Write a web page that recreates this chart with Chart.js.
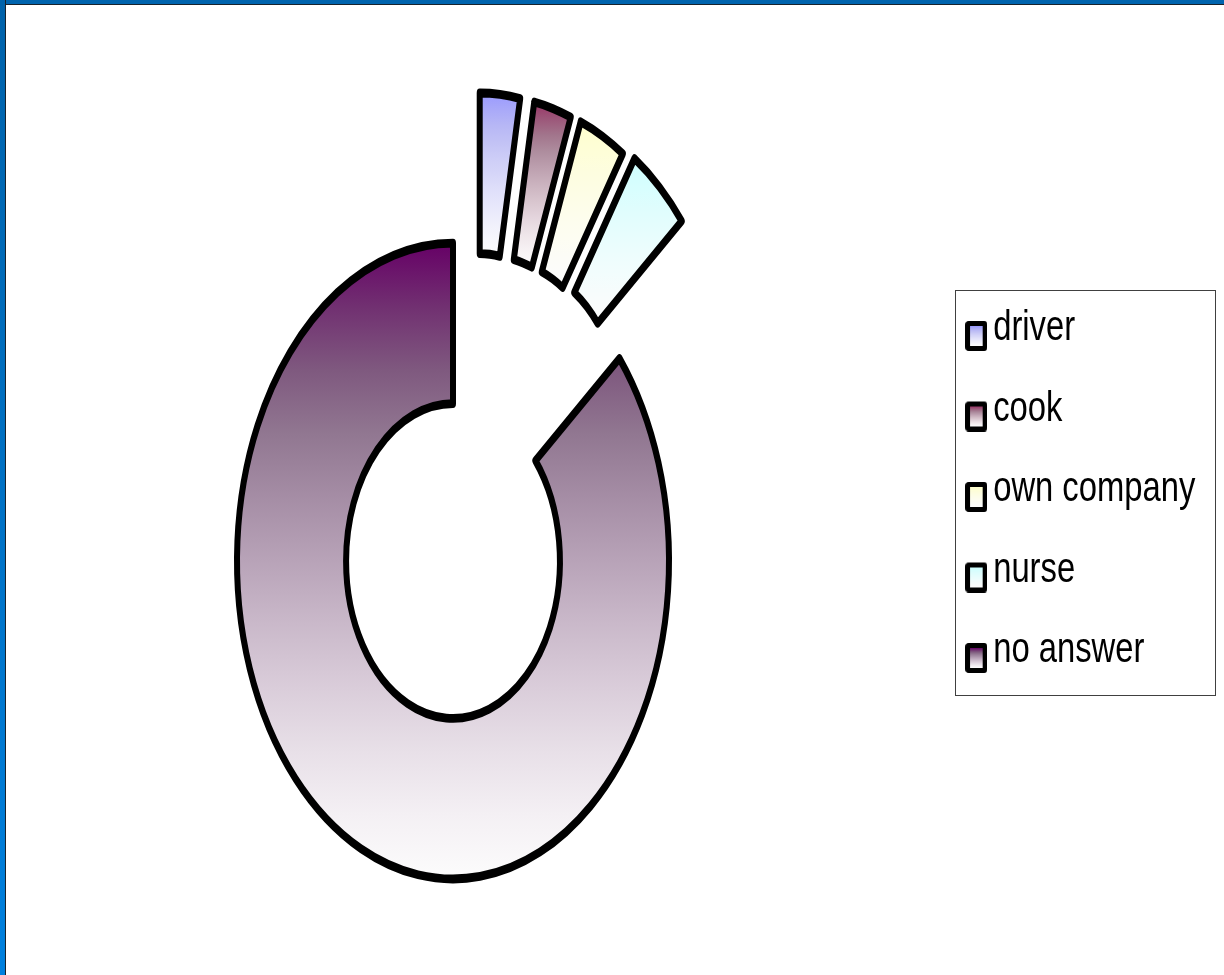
<!DOCTYPE html>
<html>
<head>
<meta charset="utf-8">
<script src="https://cdn.jsdelivr.net/npm/chart.js@4.4.1/dist/chart.umd.min.js"></script>
<style>
  html, body { margin: 0; padding: 0; background: #ffffff; }
  #wrap { position: relative; width: 1224px; height: 975px; overflow: hidden; }
  #chart { position: absolute; left: 0; top: 0; }
  #frameTop { position: absolute; left: 0; top: 0; width: 1224px; height: 4px; background: #0064ae; border-bottom: 1px solid #18222c; }
  #frameLeft { position: absolute; left: 0; top: 0; width: 5px; height: 975px; background: linear-gradient(#0062aa, #0080de); border-right: 1px solid #18222c; }
</style>
</head>
<body>
<div id="wrap">
  <canvas id="chart" width="1224" height="975"></canvas>
  <div id="frameTop"></div>
  <div id="frameLeft"></div>
</div>
<script>
const labels = ["driver", "cook", "own company", "nurse", "no answer"];
const shares = [3.0, 2.8, 3.5, 4.7, 86.0];
const colors = ["#9999ff", "#993366", "#ffffcc", "#ccffff", "#660066"];

// pulled-out slices: distance along the slice middle, and a sideways nudge
const explodeOut = [104, 107, 109, 111, 0];
const explodeSide = [17, 12, 1, -16, 0];

// ring is squashed into an ellipse like the original
const CX = 453, CY = 561, SY = 1.472;
// legend text is narrow in the original
const SQUEEZE = 0.78, LEGEND_X = 976;

function hexRgb(h) {
  return [1, 3, 5].map(i => parseInt(h.slice(i, i + 2), 16));
}

// colour -> near white; dark colours go a bit grey on the way
function shade(hex, t) {
  const c = hexRgb(hex);
  const dark = 1 - (c[0] + c[1] + c[2]) / 3 / 255;
  const tl = 1 - Math.pow(1 - t, 1.3);
  const base = c.map(v => v + (252 - v) * tl);
  const avg = (base[0] + base[1] + base[2]) / 3;
  const s = 0.96 * dark * Math.sqrt(1 - t) * Math.min(1, t * 4);
  const out = base.map(v => Math.round(v + (avg - v) * s));
  return "rgb(" + out.join(",") + ")";
}

function addStops(grad, hex) {
  for (let k = 0; k <= 10; k++) grad.addColorStop(k / 10, shade(hex, k / 10));
}

function makeSwatch(color) {
  const c = document.createElement("canvas");
  const w = Math.round(22 / SQUEEZE);
  const bx = Math.round(5 / SQUEEZE);
  c.width = w;
  c.height = 45;
  const g = c.getContext("2d");
  g.fillStyle = "#000";
  g.beginPath();
  g.roundRect(0, 15, w, 30, 4);
  g.fill();
  const grad = g.createLinearGradient(0, 20, 0, 40);
  addStops(grad, color);
  g.fillStyle = grad;
  g.fillRect(bx, 20, w - 2 * bx, 20);
  return c;
}
const swatches = colors.map(makeSwatch);

function arcExtentY(el) {
  let min = Infinity, max = -Infinity;
  for (let k = 0; k <= 90; k++) {
    const t = el.startAngle + (el.endAngle - el.startAngle) * k / 90;
    for (const r of [el.innerRadius, el.outerRadius]) {
      const y = Math.sin(t) * r;
      if (y < min) min = y;
      if (y > max) max = y;
    }
  }
  return [min, max];
}

const ringPlugin = {
  id: "ring",
  afterLayout(chart) {
    const lg = chart.legend;
    if (!lg || lg._squeezed) return;
    const orig = lg.draw.bind(lg);
    lg.draw = function (area) {
      const c = chart.ctx;
      const ax = lg.left + lg.options.labels.padding;
      c.save();
      c.translate(LEGEND_X, 0);
      c.scale(SQUEEZE, 1);
      c.translate(-ax, 0);
      orig(area);
      c.restore();
    };
    lg._squeezed = true;
  },
  beforeDatasetDraw(chart, args) {
    const ctx = chart.ctx;
    const els = args.meta.data;
    ctx.save();
    ctx.translate(CX, CY);
    ctx.scale(1, SY);
    ctx.translate(-els[0].x, -els[0].y);
    els.forEach((el, i) => {
      const mid = (el.startAngle + el.endAngle) / 2;
      const [y0, y1] = arcExtentY(el);
      const grad = ctx.createLinearGradient(0, el.y + y0, 0, el.y + y1);
      addStops(grad, colors[i]);
      const saved = el.options;
      el.options = Object.assign({}, saved, { backgroundColor: grad });
      const dx = Math.cos(mid) * explodeOut[i] - Math.sin(mid) * explodeSide[i];
      const dy = Math.sin(mid) * explodeOut[i] + Math.cos(mid) * explodeSide[i];
      ctx.save();
      ctx.translate(dx, dy);
      el.draw(ctx);
      ctx.restore();
      el.options = saved;
    });
    ctx.restore();
    return false;
  },
  afterDraw(chart) {
    const lg = chart.legend;
    const hb = lg.legendHitBoxes;
    if (!hb || !hb.length) return;
    const ax = lg.left + lg.options.labels.padding;
    const mapX = x => LEGEND_X + (x - ax) * SQUEEZE;
    const ctx = chart.ctx;
    const maxW = Math.max(...hb.map(h => h.width));
    const left = Math.round(LEGEND_X - 21) + 0.5;
    const right = Math.round(mapX(hb[0].left + maxW) + 20) + 0.5;
    const top = Math.round(hb[0].top - 18) + 0.5;
    const last = hb[hb.length - 1];
    const bottom = Math.round(last.top + last.height + 23) + 0.5;
    ctx.save();
    ctx.strokeStyle = "#404040";
    ctx.lineWidth = 1;
    ctx.strokeRect(left, top, right - left, bottom - top);
    ctx.restore();
  }
};

new Chart(document.getElementById("chart"), {
  type: "doughnut",
  data: {
    labels: labels,
    datasets: [{
      data: shares,
      backgroundColor: colors,
      borderColor: "#000000",
      borderWidth: 6,
      borderJoinStyle: "round",
      clip: false
    }]
  },
  options: {
    responsive: false,
    animation: false,
    radius: 216,
    cutout: "49.5%",
    layout: { padding: { top: 4, right: 0, bottom: 0, left: 0 } },
    plugins: {
      tooltip: { enabled: false },
      legend: {
        position: "right",
        labels: {
          usePointStyle: true,
          boxWidth: 1,
          padding: 38.5,
          color: "#000000",
          font: { family: "'Liberation Sans', Arial, sans-serif", size: 42 },
          generateLabels: () => labels.map((text, i) => ({
            text: text,
            pointStyle: swatches[i],
            fillStyle: colors[i],
            strokeStyle: "#000000",
            lineWidth: 0,
            hidden: false,
            index: i,
            fontColor: "#000000"
          }))
        }
      }
    }
  },
  plugins: [ringPlugin]
});
</script>
</body>
</html>
